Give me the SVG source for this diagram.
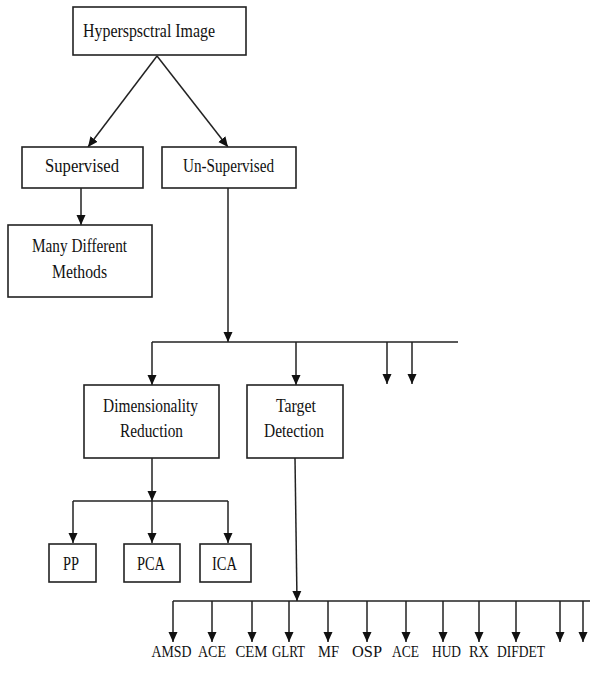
<svg xmlns="http://www.w3.org/2000/svg" width="590" height="674" viewBox="0 0 590 674">
<style>
.box{fill:#fff;stroke:#222;stroke-width:1.6}
.t{font-family:"Liberation Serif","Times New Roman","DejaVu Serif",serif;font-size:19px;fill:#111;text-anchor:middle}
.s{font-size:16px}
.c line{stroke:#222;stroke-width:1.5;fill:none}
.a{marker-end:url(#ah)}
</style>
<defs>
<marker id="ah" markerUnits="userSpaceOnUse" markerWidth="10" markerHeight="10" refX="10" refY="4.5" orient="auto" viewBox="0 0 10 9">
<path d="M0,0 L10,4.5 L0,9 z" fill="#111"/>
</marker>
</defs>
<rect width="590" height="674" fill="#fff"/>
<g class="c" id="connectors">
<line class="a" x1="157" y1="56" x2="88" y2="147"/>
<line class="a" x1="157" y1="56" x2="228" y2="147"/>
<line class="a" x1="81" y1="188" x2="81" y2="225"/>
<line class="a" x1="228" y1="188" x2="228" y2="342"/>
<line x1="152" y1="342" x2="458" y2="342"/>
<line class="a" x1="152" y1="342" x2="152" y2="385"/>
<line class="a" x1="296" y1="342" x2="296" y2="385"/>
<line class="a" x1="387" y1="342" x2="387" y2="384"/>
<line class="a" x1="412" y1="342" x2="412" y2="384"/>
<line class="a" x1="152" y1="458" x2="152" y2="501"/>
<line x1="73" y1="501" x2="228" y2="501"/>
<line class="a" x1="73" y1="501" x2="73" y2="543"/>
<line class="a" x1="152" y1="501" x2="152" y2="543"/>
<line class="a" x1="228" y1="501" x2="228" y2="543"/>
<line class="a" x1="295" y1="458" x2="297" y2="601"/>
<line x1="173" y1="601" x2="590" y2="601"/>
<line class="a" x1="173" y1="601" x2="173" y2="642"/>
<line class="a" x1="212" y1="601" x2="212" y2="642"/>
<line class="a" x1="252" y1="601" x2="252" y2="642"/>
<line class="a" x1="289" y1="601" x2="289" y2="642"/>
<line class="a" x1="328" y1="601" x2="328" y2="642"/>
<line class="a" x1="367" y1="601" x2="367" y2="642"/>
<line class="a" x1="406" y1="601" x2="406" y2="642"/>
<line class="a" x1="443" y1="601" x2="443" y2="642"/>
<line class="a" x1="479" y1="601" x2="479" y2="642"/>
<line class="a" x1="516" y1="601" x2="516" y2="642"/>
<line class="a" x1="560" y1="601" x2="560" y2="642"/>
<line class="a" x1="583" y1="601" x2="583" y2="642"/>
</g>
<g id="hyperspectral"><rect class="box" x="73" y="7" width="173" height="48"/><text class="t" x="149" y="37" textLength="132" lengthAdjust="spacingAndGlyphs">Hyperspsctral Image</text></g>
<g id="supervised"><rect class="box" x="22" y="147" width="121" height="41"/><text class="t" x="82" y="172" textLength="74" lengthAdjust="spacingAndGlyphs">Supervised</text></g>
<g id="unsupervised"><rect class="box" x="162" y="147" width="134" height="41"/><text class="t" x="228.5" y="172" textLength="91" lengthAdjust="spacingAndGlyphs">Un-Supervised</text></g>
<g id="many"><rect class="box" x="8" y="225" width="144" height="72"/><text class="t" x="79.5" y="252" textLength="95" lengthAdjust="spacingAndGlyphs">Many Different</text><text class="t" x="79.5" y="278" textLength="55" lengthAdjust="spacingAndGlyphs">Methods</text></g>
<g id="dimred"><rect class="box" x="84" y="385" width="135" height="73"/><text class="t" x="150.5" y="412" textLength="95" lengthAdjust="spacingAndGlyphs">Dimensionality</text><text class="t" x="151.5" y="437" textLength="63" lengthAdjust="spacingAndGlyphs">Reduction</text></g>
<g id="target"><rect class="box" x="247" y="385" width="96" height="73"/><text class="t" x="296" y="412" textLength="40" lengthAdjust="spacingAndGlyphs">Target</text><text class="t" x="294" y="437" textLength="60" lengthAdjust="spacingAndGlyphs">Detection</text></g>
<g id="pp"><rect class="box" x="49" y="544" width="47" height="38"/><text class="t" x="71" y="570" textLength="16" lengthAdjust="spacingAndGlyphs">PP</text></g>
<g id="pca"><rect class="box" x="124" y="544" width="56" height="38"/><text class="t" x="151" y="570" textLength="28" lengthAdjust="spacingAndGlyphs">PCA</text></g>
<g id="ica"><rect class="box" x="200" y="544" width="51" height="38"/><text class="t" x="224.5" y="570" textLength="25" lengthAdjust="spacingAndGlyphs">ICA</text></g>
<g id="labels">
<text class="t s" x="171.5" y="657" textLength="40" lengthAdjust="spacingAndGlyphs">AMSD</text>
<text class="t s" x="212" y="657" textLength="28" lengthAdjust="spacingAndGlyphs">ACE</text>
<text class="t s" x="251.5" y="657" textLength="32" lengthAdjust="spacingAndGlyphs">CEM</text>
<text class="t s" x="288.5" y="657" textLength="33" lengthAdjust="spacingAndGlyphs">GLRT</text>
<text class="t s" x="328.5" y="657" textLength="21" lengthAdjust="spacingAndGlyphs">MF</text>
<text class="t s" x="367" y="657" textLength="30" lengthAdjust="spacingAndGlyphs">OSP</text>
<text class="t s" x="405.5" y="657" textLength="27" lengthAdjust="spacingAndGlyphs">ACE</text>
<text class="t s" x="446.5" y="657" textLength="29" lengthAdjust="spacingAndGlyphs">HUD</text>
<text class="t s" x="479" y="657" textLength="20" lengthAdjust="spacingAndGlyphs">RX</text>
<text class="t s" x="521" y="657" textLength="48" lengthAdjust="spacingAndGlyphs">DIFDET</text>
</g>
</svg>
